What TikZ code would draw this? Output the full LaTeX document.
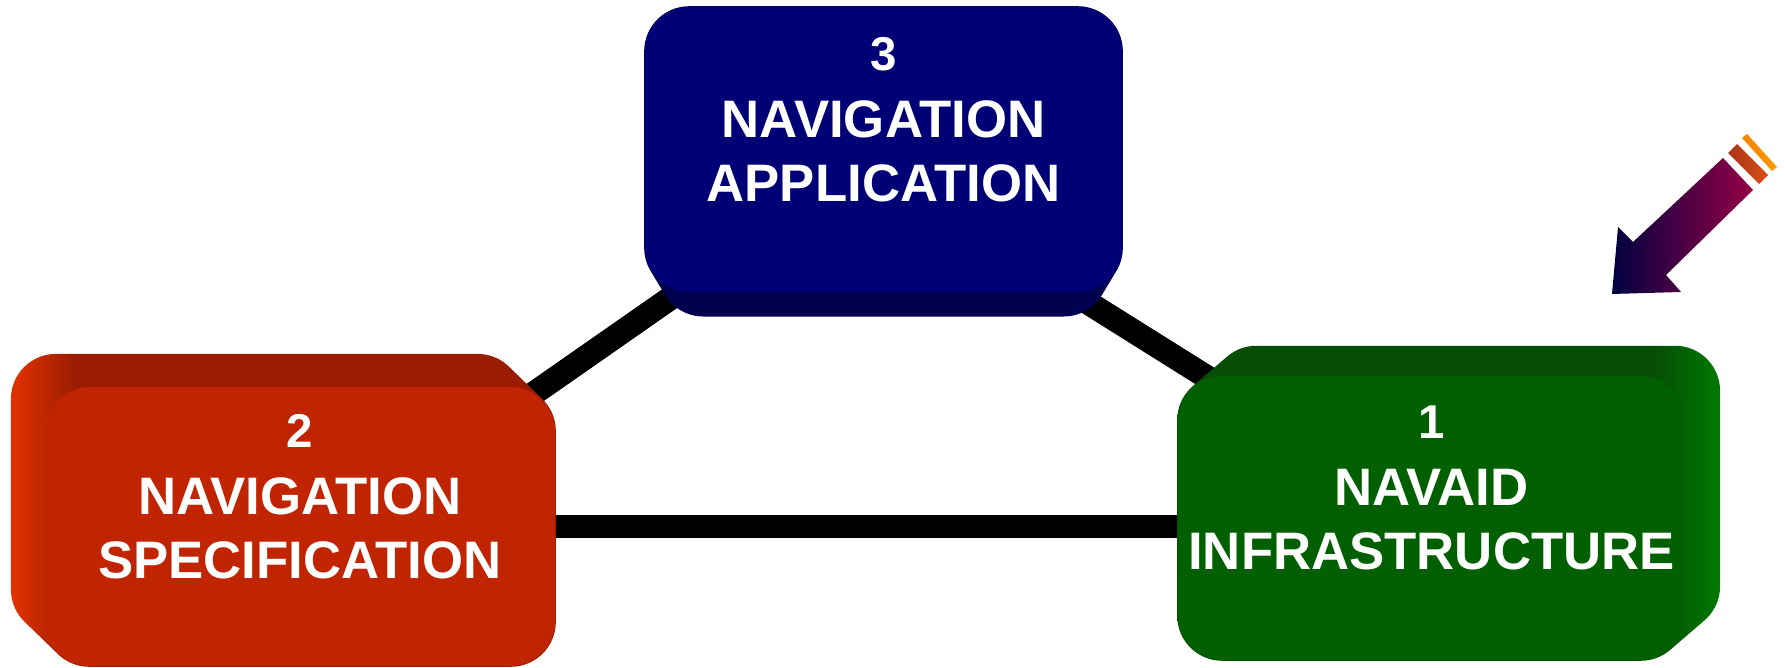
\documentclass[tikz,border=0pt]{standalone}
\usepackage{fontspec}
\setmainfont{Liberation Sans}
\usepackage{xcolor}
\usepackage{tikz}
\usetikzlibrary{backgrounds}
\definecolor{specfront}{RGB}{192,36,0}
\definecolor{spectop}{RGB}{153,28,0}
\definecolor{speclit}{RGB}{228,50,0}
\definecolor{appfront}{RGB}{0,0,118}
\definecolor{appside}{RGB}{0,0,80}
\definecolor{infrafront}{RGB}{0,96,0}
\definecolor{infratop}{RGB}{6,78,6}
\definecolor{infralit}{RGB}{0,122,0}
\definecolor{arrowhead}{RGB}{0,0,64}
\definecolor{arrowtail}{RGB}{150,0,70}
\definecolor{stripered}{RGB}{200,60,30}
\definecolor{stripeorange}{RGB}{245,130,0}
\pgfdeclarehorizontalshading{specside}{100bp}{color(0bp)=(speclit); color(25bp)=(speclit); color(31bp)=(spectop); color(100bp)=(spectop)}
\pgfdeclarehorizontalshading{infraside}{100bp}{color(0bp)=(infratop); color(69bp)=(infratop); color(75bp)=(infralit); color(100bp)=(infralit)}
\tikzstyle{navbox} = [rectangle, rounded corners=4.5mm, inner sep=0pt]
\tikzstyle{navtext} = [text=white, align=center, font=\fontsize{15}{18.2}\selectfont\bfseries]
\tikzstyle{link} = [line width=6.8pt, black]
\newcommand{\numsize}{\fontsize{13.5}{16}\selectfont}

\begin{document}
\begin{tikzpicture}[x=0.01cm, y=-0.01cm]
\useasboundingbox (0,0) rectangle (1785,668);

% front faces
\node (spec) [navbox, fill=specfront, minimum width=5.1cm, minimum height=2.79cm] at (300,526.5) {};
\node (app) [navbox, fill=appfront, minimum width=4.77cm, minimum height=2.85cm] at (883.5,149.5) {};
\node (infra) [navbox, fill=infrafront, minimum width=5.07cm, minimum height=2.84cm] at (1431.5,518) {};

\node (spectext) [navtext] at ([yshift=3mm]spec.center) {{\numsize 2}\\[1pt]NAVIGATION\\SPECIFICATION};
\node (apptext) [navtext] at ([yshift=3mm]app.center) {{\numsize 3}\\[1pt]NAVIGATION\\APPLICATION};
\node (infratext) [navtext] at ([yshift=3mm]infra.center) {{\numsize 1}\\[1pt]NAVAID\\INFRASTRUCTURE};

\begin{pgfonlayer}{background}
\draw [link] ([yshift=-3mm]spec.center) -- (app.center);
\draw [link] ([yshift=-2.5mm]app.center) -- (infra.center);
\draw [link] (spec.center) -- (spec.center -| infra.center);
% depth of the boxes
\shade [shading=specside, rounded corners=4.5mm] \foreach \t in {0,0.05,...,1} {([shift={(-35*\t,-34*\t)}]spec.north west) rectangle ([shift={(-35*\t,-34*\t)}]spec.south east)};
\fill [appside, rounded corners=4.5mm] \foreach \t in {0,0.05,...,1} {([shift={(15*\t,25*\t)}]app.north west) rectangle ([shift={(-15*\t,25*\t)}]app.south east)};
\shade [shading=infraside, rounded corners=4.5mm] \foreach \t in {0,0.05,...,1} {([shift={(36*\t,-31*\t)}]infra.north west) rectangle ([shift={(36*\t,-31*\t)}]infra.south east)};
\end{pgfonlayer}

% pointer arrow
\shade [left color=arrowhead, right color=arrowtail] (1612,294) -- (1618,227) -- (1633,242) -- (1723,158) -- (1753,190) -- (1666,275) -- (1681,292) -- cycle;
\shade [left color=stripered!85!black, right color=stripered!70!orange] (1728,153) -- (1737,144) -- (1768,175) -- (1759,184) -- cycle;
\shade [left color=stripeorange, right color=orange!80!yellow] (1742,138) -- (1747,134) -- (1777,167) -- (1772,171) -- cycle;

\end{tikzpicture}
\end{document}
